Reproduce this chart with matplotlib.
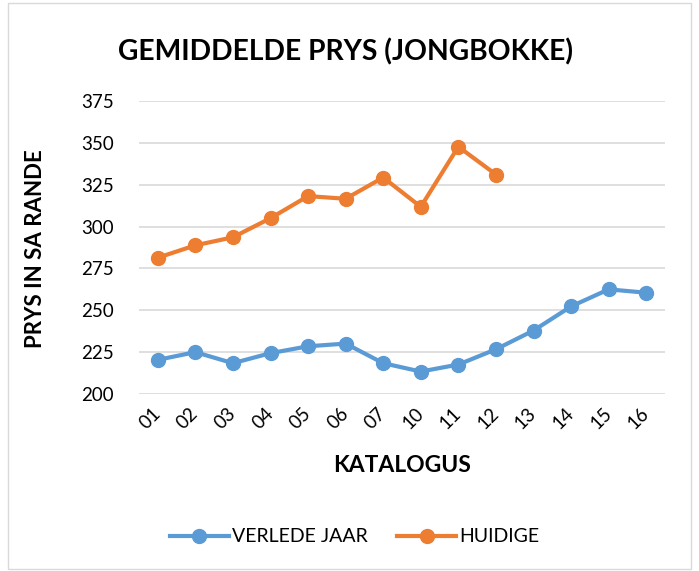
import matplotlib
matplotlib.use("Agg")
import matplotlib.pyplot as plt
from matplotlib.lines import Line2D
from matplotlib.patches import Rectangle

plt.rcParams["font.family"] = ["Lato", "DejaVu Sans"]

katalogus = ["01", "02", "03", "04", "05", "06", "07", "10", "11", "12", "13", "14", "15", "16"]
verlede_jaar = [220.4, 225.0, 218.4, 224.4, 228.5, 230.1, 218.4, 213.4, 217.6, 226.7, 237.9, 252.3, 262.5, 260.5]
huidige = [281.4, 288.8, 293.6, 305.0, 318.2, 316.6, 329.3, 311.8, 347.7, 331.1]
y_ticks = [200, 225, 250, 275, 300, 325, 350, 375]

blue = "#5B9BD5"
orange = "#ED7D31"

fig = plt.figure(figsize=(6.99, 5.71), dpi=100)
fig.patch.set_facecolor("white")
fig.patches.append(Rectangle((0.012, 0.004), 0.976, 0.99, transform=fig.transFigure,
                             fill=False, edgecolor="#D9D9D9", linewidth=1))

ax = fig.add_axes([139 / 699, 1 - 394 / 571, (665 - 139) / 699, (394 - 101) / 571])
x = list(range(len(katalogus)))

ax.plot(x, verlede_jaar, color=blue, lw=3, marker="o", ms=10, zorder=3)
ax.plot(x[:len(huidige)], huidige, color=orange, lw=3, marker="o", ms=10, zorder=3)

ax.set_xlim(-0.5, len(katalogus) - 0.5)
ax.set_ylim(200, 375)
ax.set_yticks(y_ticks)
ax.set_yticklabels([str(v) for v in y_ticks], fontsize=13.5)
ax.set_xticks(x)
ax.set_xticklabels(katalogus, fontsize=13.5, rotation=45, ha="right", va="center",
                   rotation_mode="anchor")
ax.tick_params(axis="both", length=0)
ax.tick_params(axis="x", pad=12)
ax.tick_params(axis="y", pad=18)
ax.grid(axis="y", color="#D9D9D9", lw=1.2)
ax.set_axisbelow(True)
for s in ax.spines.values():
    s.set_visible(False)

fig.text(345 / 699, 1 - 52 / 571, "GEMIDDELDE PRYS (JONGBOKKE)", fontsize=20.3,
         fontweight="bold", ha="center", va="center")
fig.text(36 / 699, 1 - 249 / 571, "PRYS IN SA RANDE", fontsize=16, fontweight="bold",
         rotation=90, ha="center", va="center")
fig.text(402 / 699, 1 - 466 / 571, "KATALOGUS", fontsize=16.5, fontweight="bold",
         ha="center", va="center")

handles = [Line2D([], [], color=blue, lw=3, marker="o", ms=10),
           Line2D([], [], color=orange, lw=3, marker="o", ms=10)]
fig.legend(handles, ["VERLEDE JAAR", "HUIDIGE"], loc="center",
           bbox_to_anchor=(355 / 699, 1 - 537 / 571), ncol=2, frameon=False,
           fontsize=14, handlelength=3.0, columnspacing=1.5, handletextpad=0.2)

fig.savefig("out.png", dpi=100)
